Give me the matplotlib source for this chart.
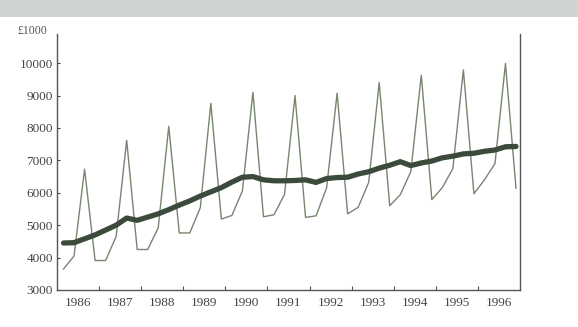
import matplotlib
matplotlib.use("Agg")
import matplotlib.pyplot as plt
import numpy as np
from matplotlib.patches import Rectangle

# Quarterly data 1986 Q1 - 1996 Q4 (in £1000)
years = list(range(1986, 1997))
sales = [
    3650, 4050, 6730, 3910,   # 1986
    3910, 4650, 7620, 4250,   # 1987
    4250, 4920, 8050, 4760,   # 1988
    4760, 5540, 8760, 5190,   # 1989
    5300, 6060, 9100, 5260,   # 1990
    5320, 5950, 9000, 5240,   # 1991
    5290, 6150, 9070, 5350,   # 1992
    5550, 6320, 9400, 5600,   # 1993
    5940, 6650, 9630, 5790,   # 1994
    6160, 6750, 9790, 5970,   # 1995
    6400, 6900, 9990, 6140,   # 1996
]
trend = [
    4450, 4460, 4580, 4700,
    4850, 5000, 5220, 5150,
    5250, 5350, 5480, 5620,
    5750, 5900, 6030, 6160,
    6330, 6480, 6500, 6400,
    6370, 6370, 6380, 6400,
    6320, 6440, 6470, 6480,
    6580, 6650, 6760, 6850,
    6960, 6840, 6920, 6980,
    7080, 7130, 7200, 7220,
    7280, 7320, 7420, 7430,
]
y_ticks = [3000, 4000, 5000, 6000, 7000, 8000, 9000, 10000]
y_unit = "£1000"

t = np.array([y + (q + 0.5) / 4 + 0.03 for y in years for q in range(4)])

plt.rcParams['font.family'] = ['Liberation Serif', 'DejaVu Serif']

fig = plt.figure(figsize=(5.78, 3.27), dpi=100)
fig.patch.set_facecolor('white')
fig.patches.append(Rectangle((0, 1 - 17 / 327), 1, 17 / 327, transform=fig.transFigure,
                             facecolor='#d0d4d0', edgecolor='none', zorder=0))

ax = fig.add_axes([57 / 578, 37 / 327, (520 - 57) / 578, (290 - 34) / 327])
ax.plot(t, sales, color='#76866f', lw=1.0, zorder=2)
ax.plot(t, trend, color='#3c4a3c', lw=3.8, solid_capstyle='round', zorder=3)

ax.set_xlim(1986, 1997)
ax.set_ylim(3000, 10900)
ax.set_yticks(y_ticks)
ax.set_yticklabels([str(v) for v in y_ticks])
ax.set_xticks(list(range(1987, 1997)))
ax.set_xticklabels([])
ax.set_xticks([y + 0.5 for y in years], minor=True)
ax.set_xticklabels([str(y) for y in years], minor=True)
ax.tick_params(axis='x', which='minor', length=0, pad=5, labelsize=9.5, colors='#444444')
ax.tick_params(axis='x', which='major', direction='in', length=3, color='#555555')
ax.tick_params(axis='y', direction='in', length=2, pad=3, labelsize=9.5,
               colors='#444444')
for s in ['left', 'bottom', 'right']:
    ax.spines[s].set_color('#555555')
    ax.spines[s].set_linewidth(1.0)
ax.spines['top'].set_visible(False)

fig.text(17 / 578, 1 - 31 / 327, y_unit, fontsize=8.5, color='#555555', va='center', ha='left')

fig.savefig('out.png', dpi=100)
